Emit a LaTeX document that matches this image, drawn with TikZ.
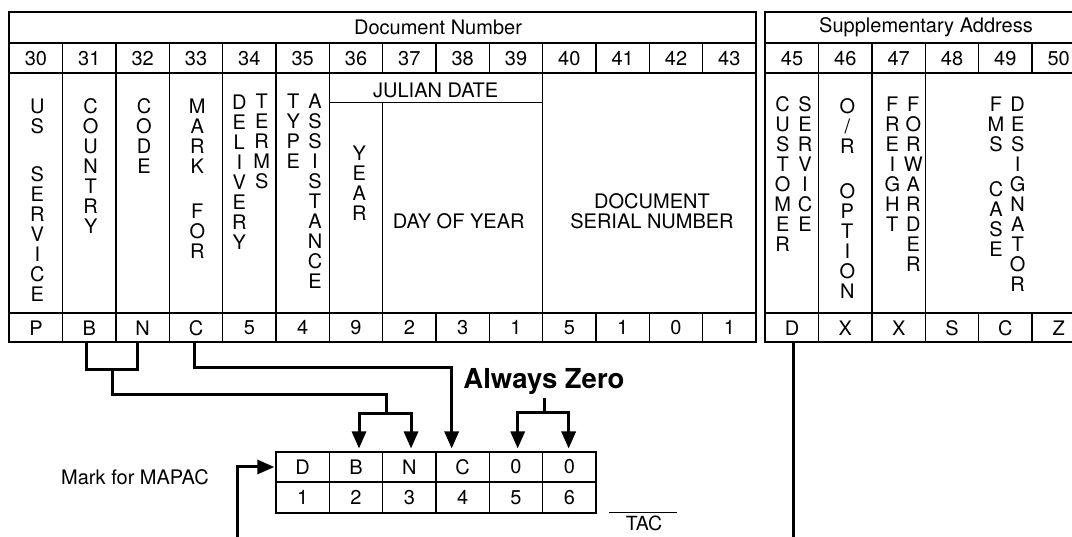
\documentclass[tikz,border=0pt]{standalone}
\usepackage{fontspec}
\setmainfont{TeX Gyre Heros}
\usetikzlibrary{arrows.meta}

\tikzset{
  frame/.style={line width=2.2pt},
  rowline/.style={line width=1.6pt},
  colline/.style={line width=1.2pt},
  conn/.style={line width=3pt},
  tipped/.style={-{Triangle[width=14pt,length=17pt]}, shorten >=3pt},
  cell/.style={inner sep=0pt, minimum width=53.3pt},
  vword/.style={anchor=north, inner sep=0pt, align=center},
}

\begin{document}
\begin{tikzpicture}[x=1pt, y=-1pt, font=\fontsize{20}{20}\selectfont]
        \clip (0,0) rectangle (1072,537);

        % document number block
        \draw[frame] (9.33,12) rectangle (756,342.3);
        \draw[rowline] (9.33,43.3) -- (756,43.3) (9.33,73.3) -- (756,73.3) (9.33,313.3) -- (756,313.3);
        \foreach \k in {1,...,13}
            \draw[colline] ({9.33+53.333*\k},43.3) -- ++(0,30) ({9.33+53.333*\k},313.3) -- ++(0,29);
        \foreach \k in {1,...,6}
            \draw[colline] ({9.33+53.333*\k},73.3) -- ({9.33+53.333*\k},313.3);
        \draw[colline] (329.33,102.7) -- (542.67,102.7);
        \draw[colline] (382.67,102.7) -- (382.67,313.3);
        \draw[colline] (542.67,73.3) -- (542.67,313.3);

        % supplementary address block
        \draw[frame] (765.33,12) rectangle (1085.33,342.3);
        \draw[rowline] (765.33,43.3) -- (1085.33,43.3) (765.33,73.3) -- (1085.33,73.3) (765.33,313.3) -- (1085.33,313.3);
        \foreach \k in {1,...,5}
            \draw[colline] ({765.33+53.333*\k},43.3) -- ++(0,30) ({765.33+53.333*\k},313.3) -- ++(0,29);
        \foreach \k in {1,...,3}
            \draw[colline] ({765.33+53.333*\k},73.3) -- ({765.33+53.333*\k},313.3);

        \node (docnum) at (438,27.7) {Document Number};
        \node (suppaddr) at (926,27.7) {Supplementary Address};

        \foreach \n [count=\k from 0] in {30,...,43}
            \node (c\n) at ({36+53.333*\k},58.3) {\n};
        \foreach \n [count=\k from 0] in {45,...,50}
            \node (c\n) at ({792+53.333*\k},58.3) {\n};

        \foreach \v [count=\k from 30] in {P,B,N,C,5,4,9,2,3,1,5,1,0,1}
            \node[cell, minimum height=29pt] (v\k) at ({36+53.333*(\k-30)},327.8) {\v};
        \foreach \v [count=\k from 45] in {D,X,X,S,C,Z}
            \node[cell, minimum height=29pt] (v\k) at ({792+53.333*(\k-45)},327.8) {\v};

        % field names
        \node[vword] (usw) at (37.3,98.3) {U\\S};
        \node[vword] (servw) at (37.3,166) {S\\E\\R\\V\\I\\C\\E};
        \node[vword] (countryw) at (90.7,98.3) {C\\O\\U\\N\\T\\R\\Y};
        \node[vword] (codew) at (144,98.3) {C\\O\\D\\E};
        \node[vword] (markw) at (197.3,98.3) {M\\A\\R\\K};
        \node[vword] (forw) at (197.3,203.3) {F\\O\\R};
        \node[vword] (delivw) at (239.3,95) {D\\E\\L\\I\\V\\E\\R\\Y};
        \node[vword] (termsw) at (261.7,94) {T\\E\\R\\M\\S};
        \node[vword] (typew) at (293.3,94) {T\\Y\\P\\E};
        \node[vword] (assistw) at (315,94) {A\\S\\S\\I\\S\\T\\A\\N\\C\\E};
        \node[vword] (yearw) at (359.3,146) {Y\\E\\A\\R};
        \node (julian) at (435.7,90.7) {JULIAN DATE};
        \node (doy) at (458.7,221.7) {DAY OF YEAR};
        \node[align=center] (serial) at (652,211.7) {DOCUMENT\\SERIAL NUMBER};

        \node[vword] (custw) at (782.7,96.7) {C\\U\\S\\T\\O\\M\\E\\R};
        \node[vword] (csvcw) at (805,96.7) {S\\E\\R\\V\\I\\C\\E};
        \node[vword] (orw) at (847.3,98.3) {O\\/\\R};
        \node[vword] (optw) at (847.3,183.3) {O\\P\\T\\I\\O\\N};
        \node[vword] (freightw) at (892.3,96.7) {F\\R\\E\\I\\G\\H\\T};
        \node[vword] (fwdw) at (913.3,96.7) {F\\O\\R\\W\\A\\R\\D\\E\\R};
        \node[vword] (fmsw) at (996,96.7) {F\\M\\S};
        \node[vword] (casew) at (996,181.7) {C\\A\\S\\E};
        \node[vword] (desigw) at (1017.7,96.7) {D\\E\\S\\I\\G\\N\\A\\T\\O\\R};

        % MAPAC mark
        \draw[frame] (276,451.7) rectangle (596,513.3);
        \draw[rowline] (276,482.3) -- (596,482.3);
        \foreach \k in {1,...,5}
            \draw[colline] ({276+53.333*\k},451.7) -- ++(0,61.6);
        \foreach \v [count=\k] in {D,B,N,C,0,0}
            \node[cell, minimum height=30.6pt] (b\k) at ({302.67+53.333*(\k-1)},467) {\v};
        \foreach \k in {1,...,6}
            \node (n\k) at ({302.67+53.333*(\k-1)},497.8) {\k};

        \node (mapac) at (135,477) {Mark for MAPAC};
        \node[font=\fontsize{27.5}{30}\selectfont\bfseries, anchor=base] (azero) at (544,388.3) {Always Zero};
        \node[font=\fontsize{19.5}{19.5}\selectfont] (tac) at (644,523.5) {TAC};
        \draw[colline] ([xshift=-35pt]tac.north) -- ([xshift=33pt]tac.north);

        % connectors
        \coordinate (bnjoin) at (112.3,370);
        \coordinate (bnfork) at (386,413.3);
        \coordinate (zfork) at (544,412.7);
        \coordinate (mapacfoot) at (237.7,540);

        \draw[conn] ([xshift=-2.6pt]v31.south) |- (bnjoin) -| ([xshift=-5pt]v32.south);
        \draw[conn] (bnjoin) -- ++(0,24.3) -| (bnfork);
        \draw[conn, tipped] (bnfork) -| ([xshift=3pt]b2.north);
        \draw[conn, tipped] (bnfork) -| ([xshift=1.7pt]b3.north);
        \draw[conn, tipped] ([xshift=-1.7pt]v33.south) -- ++(0,25) -| ([xshift=-11pt]b4.north);
        \draw[conn] (azero.south) -- (zfork);
        \draw[conn, tipped] (zfork) -| ([xshift=1.7pt]b5.north);
        \draw[conn, tipped] (zfork) -| ([xshift=-0.7pt]b6.north);
        \draw[conn, tipped, shorten >=1.5pt] (mapacfoot) |- (b1.west);
        \draw[conn] ([xshift=1.3pt]v45.south) -- ++(0,200);
    \end{tikzpicture}
\end{document}
